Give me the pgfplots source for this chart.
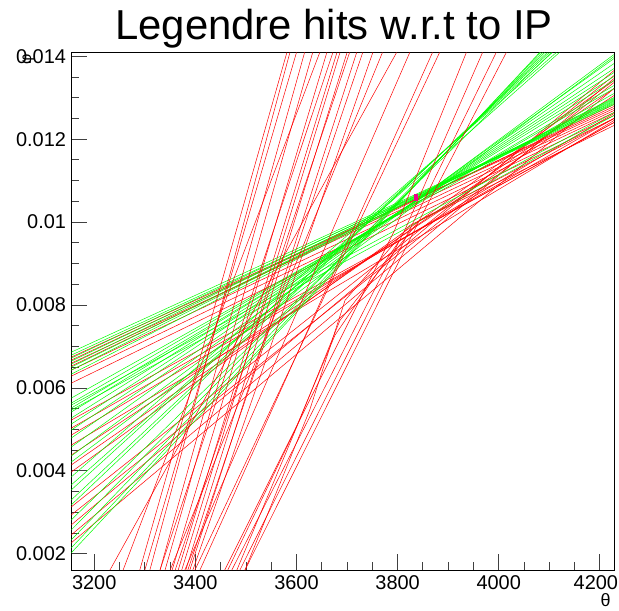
\documentclass[border=0pt]{standalone}
\usepackage{fontspec}
\setmainfont{Liberation Sans}
\usepackage{pgfplots}
\pgfplotsset{compat=1.18}
\begin{document}
\begin{tikzpicture}
\path[use as bounding box] (-71.5bp,-41bp) rectangle (547.5bp,570bp);
\begin{axis}[
  at={(0,0)}, anchor=south west, scale only axis,
  width=542.5bp, height=517.5bp,
  xmin=3155, xmax=4228, ymin=0.00161, ymax=0.01409,
  axis line style={line width=0.8bp},
  tick align=inside, tick pos=left,
  xtick={3200,3400,3600,3800,4000,4200},
  xticklabels={3200,3400,3600,3800,4000,\kern-8bp 4200},
  ytick={0.002,0.004,0.006,0.008,0.010,0.012,0.014},
  yticklabels={0.002,0.004,0.006,0.008,0.01,0.012,0.014},
  minor x tick num=3, minor y tick num=3,
  scaled y ticks=false, scaled x ticks=false,
  major tick length=16bp, minor tick length=8bp,
  every tick/.style={line width=0.8bp, black!75},
  ticklabel style={font=\fontsize{20}{23}\selectfont},
  xticklabel style={yshift=-2bp},
  yticklabel style={xshift=-2bp},
  /pgf/number format/assume math mode=true,
  every axis plot/.append style={line width=0.5bp},
]
% shallow red tracks
\addplot[red] coordinates {(3154,0.006740)(4228,0.012740)};
\addplot[red] coordinates {(3154,0.006668)(4228,0.012788)};
\addplot[red] coordinates {(3154,0.006595)(4228,0.012692)};
\addplot[red] coordinates {(3154,0.006523)(4228,0.012836)};
\addplot[red] coordinates {(3154,0.006427)(4228,0.012643)};
\addplot[red] coordinates {(3154,0.006282)(4228,0.012571)};
\addplot[red] coordinates {(3154,0.006113)(4228,0.012499)};
\addplot[red] coordinates {(3154,0.005222)(4228,0.012402)};
\addplot[red] coordinates {(3154,0.005029)(4228,0.012499)};
\addplot[red] coordinates {(3154,0.004860)(4228,0.012619)};
\addplot[red] coordinates {(3154,0.004619)(4228,0.012451)};
\addplot[red] coordinates {(3154,0.004378)(4228,0.013053)};
\addplot[red] coordinates {(3154,0.004138)(4228,0.013222)};
\addplot[red] coordinates {(3154,0.003969)(4228,0.013414)};
\addplot[red] coordinates {(3154,0.003126)(4228,0.013535)};
\addplot[red] coordinates {(3154,0.002933)(4228,0.013366)};
\addplot[red] coordinates {(3154,0.002692)(4228,0.013655)};
\addplot[red] coordinates {(3154,0.002451)(4228,0.013463)};
\addplot[red] coordinates {(3154,0.002260)(4228,0.013222)};
% green tracks
\addplot[green] coordinates {(3154,0.006860)(4228,0.012860)};
\addplot[green] coordinates {(3154,0.006788)(4228,0.012836)};
\addplot[green] coordinates {(3154,0.006716)(4228,0.012908)};
\addplot[green] coordinates {(3154,0.006643)(4228,0.012884)};
\addplot[green] coordinates {(3154,0.006571)(4228,0.012956)};
\addplot[green] coordinates {(3154,0.006499)(4228,0.012932)};
\addplot[green] coordinates {(3154,0.006427)(4228,0.012981)};
\addplot[green] coordinates {(3154,0.006330)(4228,0.013005)};
\addplot[green] coordinates {(3154,0.005752)(4228,0.013101)};
\addplot[green] coordinates {(3154,0.005631)(4228,0.013222)};
\addplot[green] coordinates {(3154,0.005583)(4228,0.012643)};
\addplot[green] coordinates {(3154,0.005511)(4228,0.013294)};
\addplot[green] coordinates {(3154,0.005463)(4228,0.012571)};
\addplot[green] coordinates {(3154,0.005415)(4228,0.013414)};
\addplot[green] coordinates {(3154,0.005270)(4228,0.013511)};
\addplot[green] coordinates {(3154,0.005125)(4228,0.013607)};
\addplot[green] coordinates {(3154,0.004981)(4228,0.013704)};
\addplot[green] coordinates {(3154,0.004788)(4228,0.013824)};
\addplot[green] coordinates {(3154,0.004571)(4228,0.013945)};
\addplot[green] coordinates {(3154,0.004354)(4228,0.014041)};
\addplot[green] coordinates {(3154,0.004210)(4228,0.013993)};
\addplot[green] coordinates {(3154,0.003848)(4114,0.01409)};
\addplot[green] coordinates {(3154,0.003656)(4120,0.01409)};
\addplot[green] coordinates {(3154,0.003535)(4106,0.01409)};
\addplot[green] coordinates {(3154,0.003294)(4100,0.01409)};
\addplot[green] coordinates {(3154,0.003174)(4096,0.01409)};
\addplot[green] coordinates {(3154,0.002812)(4104,0.01409)};
\addplot[green] coordinates {(3154,0.002571)(4091,0.01409)};
\addplot[green] coordinates {(3154,0.002330)(4087,0.01409)};
\addplot[green] coordinates {(3154,0.002138)(4083,0.01409)};
\addplot[green] coordinates {(3154,0.002017)(4081,0.01409)};
% steep red tracks
\addplot[red] coordinates {(3290,0.001607)(3581,0.01409)};
\addplot[red] coordinates {(3310,0.001607)(3587,0.01409)};
\addplot[red] coordinates {(3300,0.001607)(3600,0.01409)};
\addplot[red] coordinates {(3330,0.001607)(3616,0.01409)};
\addplot[red] coordinates {(3340,0.001607)(3632,0.01409)};
\addplot[red] coordinates {(3257,0.001607)(3646,0.01409)};
\addplot[red] coordinates {(3354,0.001607)(3660,0.01409)};
\addplot[red] coordinates {(3330,0.001607)(3672,0.01409)};
\addplot[red] coordinates {(3366,0.001607)(3680,0.01409)};
\addplot[red] coordinates {(3373,0.001607)(3686,0.01409)};
\addplot[red] coordinates {(3381,0.001607)(3700,0.01409)};
\addplot[red] coordinates {(3360,0.001607)(3705,0.01409)};
\addplot[red] coordinates {(3389,0.001607)(3719,0.01409)};
\addplot[red] coordinates {(3385,0.001607)(3731,0.01409)};
\addplot[red] coordinates {(3395,0.001607)(3751,0.01409)};
\addplot[red] coordinates {(3350,0.001607)(3770,0.01409)};
\addplot[red] coordinates {(3231,0.001607)(3798,0.01409)};
\addplot[red] coordinates {(3379,0.001607)(3824,0.01409)};
\addplot[red] coordinates {(3409,0.001607)(3869,0.01409)};
\addplot[red] coordinates {(3399,0.001607)(3883,0.01409)};
\addplot[red] coordinates {(3458,0.001607)(3794,0.009800)(3936,0.01409)};
\addplot[red] coordinates {(3472,0.001607)(3814,0.009800)(3968,0.01409)};
\addplot[red] coordinates {(3488,0.001607)(3828,0.009920)(3995,0.01409)};
\addplot[red] coordinates {(3498,0.001607)(3843,0.010041)(4015,0.01409)};
% curved red tracks
\addplot[red] coordinates {(3482,0.001607)(3606,0.005222)(3686,0.007631)(3843,0.010041)(4228,0.012499)};
\addplot[red] coordinates {(3498,0.001607)(3626,0.005463)(3696,0.008113)(3824,0.009920)(4228,0.012330)};
\addplot[red] coordinates {(3464,0.001607)(3597,0.004981)(3676,0.007270)(3804,0.009559)(4228,0.012402)};
% IP marker
\addplot[magenta, line width=4bp] coordinates {(3836,0.01052)(3836,0.01068)};
\end{axis}
\node[anchor=base, font=\fontsize{42}{50}\selectfont] at (262.5bp,530bp) {Legendre hits w.r.t to IP};
\node[rotate=90, font=\fontsize{16}{18}\selectfont] at (-43bp,511bp) {φ};
\node[font=\fontsize{18}{21}\selectfont] at (534bp,-30bp) {θ};
\end{tikzpicture}
\end{document}
